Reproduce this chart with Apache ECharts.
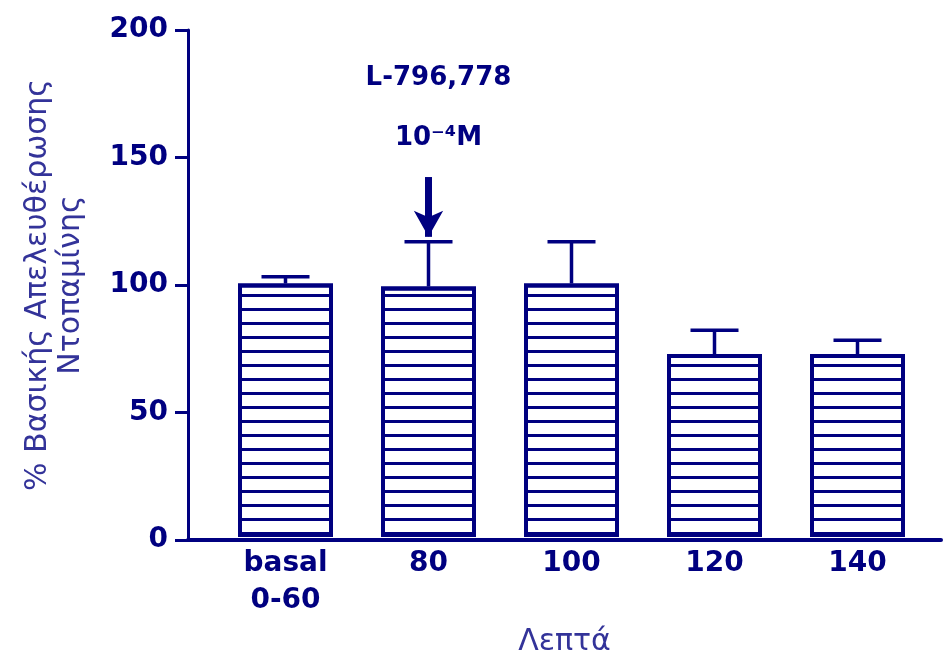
<!DOCTYPE html>
<html>
<head>
<meta charset="utf-8">
<script src="https://cdn.jsdelivr.net/npm/echarts@6/dist/echarts.min.js"></script>
<style>
  html, body { margin: 0; padding: 0; background: #fff; }
  #chart { width: 946px; height: 662px; }
</style>
</head>
<body>
<div id="chart"></div>
<script>
// data
var categories = ['basal\n0-60', '80', '100', '120', '140'];
var means = [100, 98.8, 100, 72.2, 72.2];
var errTop = [102.7, 116.5, 116.5, 81.6, 77.6];
var yTicks = [0, 50, 100, 150, 200];
var arrowFrom = 142;   // arrow over the 80 bar, in axis units
var arrowTo = 118.4;

var navy = '#000080';
var nameBlue = '#333399';
var font = 'DejaVu Sans';

var chart = echarts.init(document.getElementById('chart'));

var option = {
    backgroundColor: '#fff',
    animation: false,
    grid: [
        { left: 214, right: 17, top: 30, bottom: 122 },
        { left: 188, right: 5, top: 30, bottom: 122 }
    ],
    xAxis: [{
        gridIndex: 0,
        type: 'category',
        data: categories,
        axisLine: { show: false },
        axisTick: { show: false },
        axisLabel: {
            color: navy, fontFamily: font, fontSize: 28, fontWeight: 'bold',
            lineHeight: 37, margin: 8, interval: 0
        },
        name: 'Λεπτά',
        nameLocation: 'middle',
        nameGap: 90,
        nameTextStyle: { color: nameBlue, fontFamily: font, fontSize: 30, padding: [0, 14, 0, 0] }
    }, {
        gridIndex: 1,
        type: 'value',
        min: 0, max: 1,
        axisLine: { show: true, lineStyle: { color: navy, width: 4 } },
        axisTick: { show: false },
        axisLabel: { show: false },
        splitLine: { show: false }
    }],
    yAxis: [{
        gridIndex: 0,
        type: 'value',
        min: 0, max: 200,
        show: false
    }, {
        gridIndex: 1,
        type: 'value',
        min: yTicks[0], max: yTicks[yTicks.length - 1], interval: 50,
        axisLine: { show: true, lineStyle: { color: navy, width: 3 } },
        axisTick: { show: true, length: 13, lineStyle: { color: navy, width: 3 } },
        axisLabel: { color: navy, fontFamily: font, fontSize: 28, fontWeight: 'bold', margin: 20 },
        splitLine: { show: false },
        name: '% Βασικής Απελευθέρωσης\nΝτοπαμίνης',
        nameLocation: 'middle',
        nameRotate: 90,
        nameGap: 100,
        nameTextStyle: { color: nameBlue, fontFamily: font, fontSize: 30, lineHeight: 33 }
    }],
    series: [{
        type: 'bar',
        xAxisIndex: 0,
        yAxisIndex: 0,
        data: means,
        barWidth: 95,
        itemStyle: {
            color: '#fff',
            borderColor: navy,
            borderWidth: 4,
            decal: {
                symbol: 'rect',
                symbolSize: 1,
                color: navy,
                dashArrayX: [1, 0],
                dashArrayY: [3, 11],
                rotation: 0
            }
        },
        markLine: {
            silent: true,
            symbol: ['none', 'arrow'],
            symbolSize: [22, 26],
            lineStyle: { color: navy, width: 7, type: 'solid' },
            label: {
                show: true,
                position: 'start',
                formatter: 'L-796,778\n10⁻⁴M',
                color: navy,
                fontFamily: font,
                fontSize: 26,
                fontWeight: 'bold',
                lineHeight: 60,
                offset: [10, -4]
            },
            data: [[{ coord: [1, arrowFrom] }, { coord: [1, arrowTo] }]]
        }
    }, {
        type: 'custom',
        xAxisIndex: 0,
        yAxisIndex: 0,
        data: errTop.map(function (t, i) { return [i, means[i], t]; }),
        renderItem: function (params, api) {
            var i = api.value(0);
            var base = api.coord([i, api.value(1)]);
            var top = api.coord([i, api.value(2)]);
            var half = 24;
            var st = { stroke: navy, lineWidth: 3.5 };
            return {
                type: 'group',
                children: [
                    { type: 'line', shape: { x1: top[0], y1: base[1], x2: top[0], y2: top[1] }, style: st },
                    { type: 'line', shape: { x1: top[0] - half, y1: top[1], x2: top[0] + half, y2: top[1] }, style: st }
                ]
            };
        }
    }]
};

chart.setOption(option);
</script>
</body>
</html>
